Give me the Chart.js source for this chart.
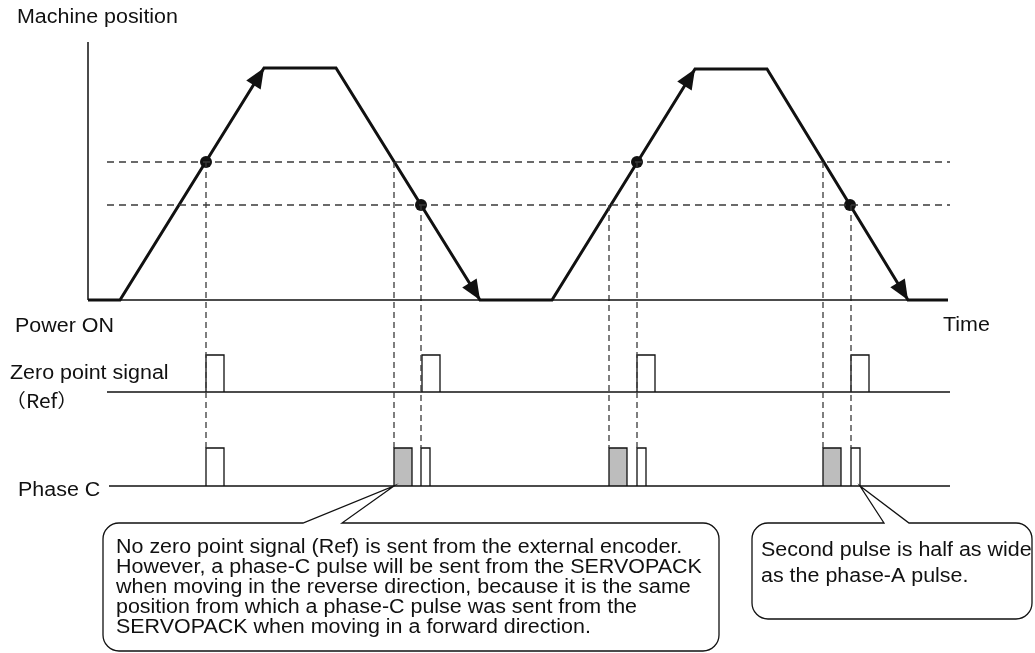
<!DOCTYPE html>
<html>
<head>
<meta charset="utf-8">
<script src="https://cdn.jsdelivr.net/npm/chart.js@4.4.1/dist/chart.umd.min.js"></script>
<style>
  html, body { margin: 0; padding: 0; background: #fff; }
  #wrap { width: 1035px; height: 653px; }
</style>
</head>
<body>
<div id="wrap"><canvas id="diagram" width="1035" height="653"></canvas></div>
<script>
(function () {
    'use strict';

    // Machine movement (time vs position, drawn in picture units)
    var motionT = [88, 120, 264, 336, 480, 552, 695, 767, 908, 948];
    var motionPos = [300, 300, 68, 68, 300, 300, 69, 69, 300, 300];

    // Detection levels (dashed) and where the path crosses them
    var levelPos = [162, 205];
    var levelSpan = [107, 950];
    var markT = [206, 421, 637, 850];
    var markPos = [162, 205, 162, 205];

    // Vertical dashed drop lines down to the phase-C row
    var dropT = [206, 394, 421, 609, 637, 823, 851];
    var dropFrom = [162, 162, 205, 205, 162, 162, 205];
    var dropTo = 448;

    // Zero point signal (Ref) pulses
    var refStart = [206, 422, 637, 851];
    var refEnd = [224, 440, 655, 869];
    var refBase = 392, refTop = 355;

    // Phase C pulses: white ones and grey (reverse direction) ones
    var phaseCStart = [206, 421, 637, 851];
    var phaseCEnd = [224, 430, 646, 860];
    var greyStart = [394, 609, 823];
    var greyEnd = [412, 627, 841];
    var phaseCBase = 486, phaseCTop = 448;

    var ink = '#111';
    var dashInk = '#3a3a3a';
    var font = '"Liberation Sans", Arial, Helvetica, sans-serif';
    var stretch = 1.1; // the source lettering is a little wider than Arial

    function pts(xs, ys) {
        return xs.map(function (x, i) { return { x: x, y: ys[i] }; });
    }

    function line(data, width, color, dash) {
        return {
            data: data,
            showLine: true,
            borderColor: color,
            borderWidth: width,
            borderDash: dash || [],
            pointRadius: 0,
            fill: false,
            tension: 0
        };
    }

    function pulse(s, e, base, top, fillColor) {
        var ds = line([{ x: s, y: base }, { x: s, y: top }, { x: e, y: top }, { x: e, y: base }], 1.3, ink);
        if (fillColor) {
            ds.fill = { value: base };
            ds.backgroundColor = fillColor;
        }
        return ds;
    }

    var datasets = [];

    // axes of the position graph
    datasets.push(line([{ x: 88, y: 42 }, { x: 88, y: 300 }], 1.5, ink));
    datasets.push(line([{ x: 88, y: 300 }, { x: 948, y: 300 }], 1.3, ink));

    // level lines
    levelPos.forEach(function (p) {
        datasets.push(line([{ x: levelSpan[0], y: p }, { x: levelSpan[1], y: p }], 1.3, dashInk, [7, 5]));
    });

    // drop lines
    dropT.forEach(function (t, i) {
        datasets.push(line([{ x: t, y: dropFrom[i] }, { x: t, y: dropTo }], 1.3, dashInk, [6, 4]));
    });

    // signal baselines
    datasets.push(line([{ x: 107, y: refBase }, { x: 950, y: refBase }], 1.3, ink));
    datasets.push(line([{ x: 109, y: phaseCBase }, { x: 950, y: phaseCBase }], 1.3, ink));

    // pulses
    refStart.forEach(function (s, i) {
        datasets.push(pulse(s, refEnd[i], refBase, refTop, '#ffffff'));
    });
    phaseCStart.forEach(function (s, i) {
        datasets.push(pulse(s, phaseCEnd[i], phaseCBase, phaseCTop, '#ffffff'));
    });
    greyStart.forEach(function (s, i) {
        datasets.push(pulse(s, greyEnd[i], phaseCBase, phaseCTop, '#bdbdbd'));
    });

    // machine path
    datasets.push(line(pts(motionT, motionPos), 3, ink));

    // crossing dots
    datasets.push({
        data: pts(markT, markPos),
        showLine: false,
        pointRadius: 6,
        pointBackgroundColor: ink,
        pointBorderWidth: 0
    });

    // arrowheads, labels and callouts
    var decorations = {
        id: 'decorations',
        afterDatasetsDraw: function (chart) {
            var ctx = chart.ctx;
            var xs = chart.scales.x, ys = chart.scales.y;
            function X(v) { return xs.getPixelForValue(v); }
            function Y(v) { return ys.getPixelForValue(v); }

            function text(s, x, y) {
                ctx.save();
                ctx.translate(x, y);
                ctx.scale(stretch, 1);
                ctx.fillText(s, 0, 0);
                ctx.restore();
            }

            ctx.save();

            // arrowheads at the end of each rising / falling stretch
            ctx.fillStyle = ink;
            for (var i = 1; i < motionT.length; i++) {
                if (motionPos[i] === motionPos[i - 1]) continue;
                var x1 = X(motionT[i - 1]), y1 = Y(motionPos[i - 1]);
                var x2 = X(motionT[i]), y2 = Y(motionPos[i]);
                var a = Math.atan2(y2 - y1, x2 - x1);
                var len = 20, half = 8.5;
                ctx.beginPath();
                ctx.moveTo(x2, y2);
                ctx.lineTo(x2 - len * Math.cos(a) + half * Math.sin(a), y2 - len * Math.sin(a) - half * Math.cos(a));
                ctx.lineTo(x2 - len * Math.cos(a) - half * Math.sin(a), y2 - len * Math.sin(a) + half * Math.cos(a));
                ctx.closePath();
                ctx.fill();
            }

            // labels
            ctx.fillStyle = ink;
            ctx.textBaseline = 'middle';
            ctx.textAlign = 'left';
            ctx.font = '19.5px ' + font;
            text('Machine position', 17, 18);
            text('Power ON', 15, 327);
            text('Time', 943, 326);
            text('Zero point signal', 10, 374);
            text('Phase C', 18, 491);
            ctx.font = '19px "Noto Sans CJK JP", ' + font;
            text('（Ref）', 5, 401);

            // callouts
            function callout(l, t, r, b, rad, gapL, gapR, tipX, tipY, lines, tx, ty, lh) {
                ctx.beginPath();
                ctx.moveTo(gapR, t);
                ctx.lineTo(r - rad, t);
                ctx.arcTo(r, t, r, t + rad, rad);
                ctx.lineTo(r, b - rad);
                ctx.arcTo(r, b, r - rad, b, rad);
                ctx.lineTo(l + rad, b);
                ctx.arcTo(l, b, l, b - rad, rad);
                ctx.lineTo(l, t + rad);
                ctx.arcTo(l, t, l + rad, t, rad);
                ctx.lineTo(gapL, t);
                ctx.lineTo(tipX, tipY);
                ctx.closePath();
                ctx.fillStyle = '#fff';
                ctx.fill();
                ctx.strokeStyle = ink;
                ctx.lineWidth = 1.3;
                ctx.stroke();
                ctx.fillStyle = ink;
                ctx.font = '19.5px ' + font;
                lines.forEach(function (s, k) {
                    text(s, tx, ty + k * lh);
                });
            }

            callout(103, 523, 719, 651, 16, 303, 342, X(greyStart[0]), Y(phaseCBase), [
                'No zero point signal (Ref) is sent from the external encoder.',
                'However, a phase-C pulse will be sent from the SERVOPACK',
                'when moving in the reverse direction, because it is the same',
                'position from which a phase-C pulse was sent from the',
                'SERVOPACK when moving in a forward direction.'
            ], 116, 548, 20);

            callout(752, 523, 1032, 619, 16, 884, 909, X(phaseCEnd[3]), Y(phaseCBase), [
                'Second pulse is half as wide',
                'as the phase-A pulse.'
            ], 761, 551, 26);

            ctx.restore();
        }
    };

    new Chart(document.getElementById('diagram'), {
        type: 'scatter',
        data: { datasets: datasets },
        options: {
            responsive: false,
            animation: false,
            events: [],
            layout: { padding: 0, autoPadding: false },
            plugins: { legend: { display: false }, tooltip: { enabled: false } },
            scales: {
                x: { type: 'linear', min: 0, max: 1035, display: false },
                y: { type: 'linear', min: 0, max: 653, reverse: true, display: false }
            }
        },
        plugins: [decorations]
    });
})();
</script>
</body>
</html>
